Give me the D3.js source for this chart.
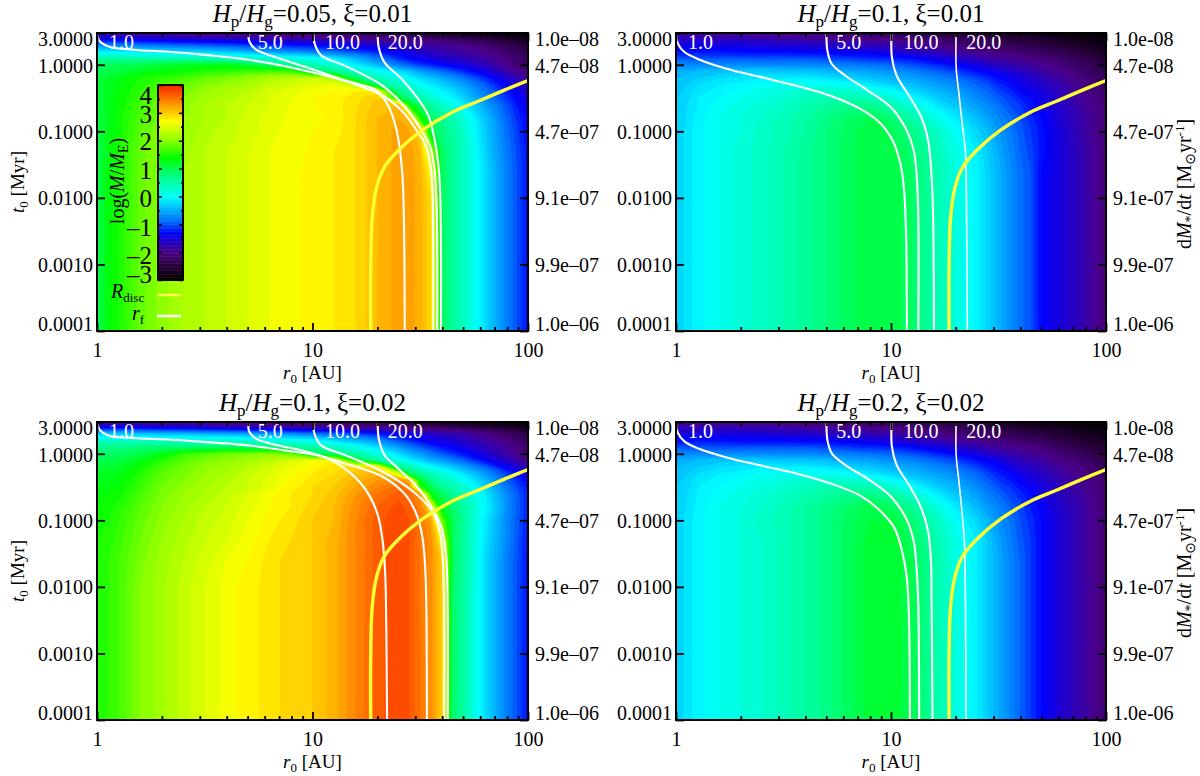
<!DOCTYPE html>
<html><head><meta charset="utf-8">
<script src="https://cdn.jsdelivr.net/npm/d3@7"></script>
<style>
html,body{margin:0;padding:0;background:#fff}
svg{display:block}
text{font-family:"Liberation Serif","Times New Roman",serif;fill:#000}
</style></head><body>
<svg id="c" width="1200" height="776"></svg>
<script>
// ---------- grid coordinates (log10 AU, log10 Myr) ----------
const logR0Grid=[0,.05,.1,.2,.3,.4,.5,.6,.7,.8,.9,1,1.1,1.2,1.3,1.4,1.45,1.5,1.55,1.6,1.65,1.7,1.8,1.9,2];
const logT0Grid=[.477,.4,.3,.2,.1,0,-.1,-.2,-.3,-.4,-.5,-.6,-.8,-1,-1.3,-1.6,-2,-3,-4];

// ---------- log(M/ME), one row per logT0Grid entry ----------
const massA=[
[-1.9,-1.9,-1.9,-1.95,-2,-2.05,-2.05,-2.1,-2.1,-2.15,-2.2,-2.25,-2.3,-2.35,-2.4,-2.5,-2.5,-2.55,-2.6,-2.65,-2.7,-2.75,-2.85,-2.95,-3],
[-1.5,-1.5,-1.5,-1.55,-1.6,-1.65,-1.7,-1.7,-1.75,-1.8,-1.85,-1.9,-1.95,-2,-2.05,-2.1,-2.15,-2.2,-2.25,-2.3,-2.35,-2.4,-2.5,-2.65,-2.8],
[-.75,-.75,-.8,-.85,-.9,-.95,-1,-1.05,-1.1,-1.15,-1.25,-1.3,-1.4,-1.5,-1.6,-1.7,-1.75,-1.8,-1.85,-1.9,-1.95,-2,-2.15,-2.35,-2.55],
[-.1,-.1,-.1,-.15,-.2,-.25,-.3,-.4,-.5,-.6,-.7,-.8,-.9,-1.05,-1.2,-1.4,-1.5,-1.6,-1.7,-1.75,-1.85,-1.9,-2,-2.2,-2.4],
[.55,.55,.55,.55,.5,.5,.45,.4,.35,.25,.15,.05,-.15,-.45,-.8,-1.15,-1.3,-1.4,-1.5,-1.6,-1.65,-1.7,-1.85,-2.05,-2.3],
[.9,.95,1,1.05,1.15,1.2,1.25,1.3,1.1,.9,.7,.5,.25,-.1,-.45,-.8,-.95,-1.1,-1.2,-1.3,-1.4,-1.5,-1.7,-2,-2.3],
[1,1.05,1.1,1.25,1.35,1.45,1.55,1.6,1.7,1.75,1.7,1,.75,.4,.1,-.2,-.35,-.55,-.7,-.85,-1,-1.15,-1.45,-1.8,-2.1],
[1.05,1.2,1.3,1.5,1.6,1.7,1.85,1.95,2.05,2.2,2.3,2.4,2.2,.9,.45,.15,0,-.2,-.35,-.5,-.65,-.8,-1.15,-1.55,-1.9],
[1.1,1.25,1.35,1.55,1.7,1.85,2,2.1,2.2,2.35,2.45,2.55,2.6,2.3,.85,.4,.25,.05,-.1,-.25,-.4,-.55,-.95,-1.35,-1.75],
[1.1,1.25,1.4,1.6,1.8,1.95,2.1,2.2,2.3,2.45,2.55,2.65,2.7,2.8,2.85,.75,.5,.3,.1,-.05,-.2,-.4,-.8,-1.2,-1.6],
[1.1,1.25,1.4,1.65,1.85,2,2.15,2.25,2.35,2.5,2.6,2.7,2.75,2.85,3,1.2,.75,.5,.3,.1,-.05,-.25,-.7,-1.1,-1.55],
[1.1,1.25,1.4,1.7,1.9,2.05,2.2,2.3,2.4,2.5,2.62,2.7,2.75,2.88,3.05,3.1,1.4,.9,.6,.35,.15,-.05,-.55,-1,-1.45],
[1.05,1.25,1.45,1.75,1.95,2.1,2.2,2.3,2.45,2.55,2.62,2.68,2.72,2.9,3.1,3.2,3.1,1.5,.95,.7,.5,.25,-.35,-.9,-1.35],
[1.05,1.25,1.45,1.8,2,2.1,2.25,2.35,2.45,2.55,2.65,2.7,2.75,2.9,3.1,3.25,3.2,3,1.1,.8,.6,.35,-.3,-.85,-1.3],
[1,1.3,1.5,1.85,2.05,2.15,2.3,2.4,2.5,2.6,2.65,2.72,2.8,2.9,3.1,3.25,3.25,3.1,2.2,.95,.65,.4,-.25,-.8,-1.25],
[1,1.35,1.5,1.85,2.05,2.2,2.3,2.4,2.5,2.6,2.66,2.75,2.8,2.9,3.1,3.25,3.25,3.15,2.7,.95,.65,.4,-.2,-.75,-1.25],
[1,1.35,1.5,1.85,2.05,2.2,2.3,2.4,2.5,2.6,2.67,2.75,2.8,2.9,3.1,3.25,3.25,3.15,2.9,.95,.65,.4,-.2,-.75,-1.25],
[.95,1.35,1.5,1.85,2.05,2.2,2.3,2.4,2.5,2.6,2.67,2.75,2.8,2.9,3.1,3.25,3.25,3.15,2.9,.95,.65,.4,-.2,-.75,-1.25],
[.95,1.35,1.5,1.85,2.05,2.2,2.3,2.4,2.5,2.6,2.67,2.75,2.8,2.9,3.1,3.25,3.25,3.15,2.9,.95,.65,.4,-.2,-.75,-1.25]];
const massB=[
[-2,-2,-2,-2,-2.05,-2.05,-2.1,-2.15,-2.2,-2.25,-2.3,-2.35,-2.4,-2.5,-2.55,-2.6,-2.65,-2.7,-2.7,-2.75,-2.8,-2.8,-2.9,-2.95,-3],
[-1.7,-1.7,-1.7,-1.75,-1.75,-1.8,-1.85,-1.9,-1.95,-2,-2.05,-2.1,-2.2,-2.25,-2.35,-2.4,-2.45,-2.5,-2.55,-2.55,-2.6,-2.65,-2.75,-2.85,-2.9],
[-1.45,-1.45,-1.45,-1.5,-1.5,-1.55,-1.6,-1.6,-1.65,-1.7,-1.75,-1.8,-1.9,-2,-2.1,-2.2,-2.25,-2.3,-2.35,-2.4,-2.45,-2.5,-2.6,-2.7,-2.85],
[-1.25,-1.25,-1.25,-1.25,-1.3,-1.3,-1.3,-1.35,-1.35,-1.4,-1.45,-1.55,-1.65,-1.75,-1.9,-2,-2.05,-2.1,-2.15,-2.2,-2.25,-2.3,-2.4,-2.55,-2.7],
[-1,-1,-1,-1,-1,-1,-1,-1,-1.05,-1.1,-1.15,-1.2,-1.3,-1.45,-1.6,-1.75,-1.85,-1.9,-1.95,-2,-2.05,-2.1,-2.25,-2.4,-2.6],
[-.7,-.7,-.7,-.7,-.7,-.7,-.7,-.7,-.75,-.8,-.85,-.9,-1,-1.15,-1.3,-1.5,-1.6,-1.7,-1.75,-1.85,-1.9,-1.95,-2.1,-2.3,-2.5],
[-.5,-.45,-.4,-.35,-.3,-.3,-.35,-.35,-.4,-.5,-.55,-.65,-.75,-.9,-1.05,-1.25,-1.35,-1.45,-1.55,-1.65,-1.75,-1.85,-2,-2.2,-2.4],
[-.4,-.35,-.3,-.2,-.15,-.1,-.1,-.1,-.15,-.25,-.35,-.45,-.55,-.7,-.85,-1.05,-1.15,-1.3,-1.4,-1.5,-1.6,-1.7,-1.9,-2.1,-2.3],
[-.35,-.3,-.2,-.1,-.05,.05,.1,.1,.1,.05,-.1,-.25,-.4,-.55,-.7,-.9,-1,-1.15,-1.25,-1.4,-1.5,-1.6,-1.8,-2.05,-2.25],
[-.35,-.25,-.15,-.05,.05,.15,.2,.3,.3,.3,.2,.05,-.2,-.4,-.55,-.8,-.9,-1.05,-1.15,-1.3,-1.4,-1.5,-1.75,-2,-2.2],
[-.3,-.25,-.1,0,.1,.2,.3,.4,.5,.5,.45,.25,0,-.25,-.45,-.7,-.8,-.95,-1.05,-1.2,-1.3,-1.45,-1.7,-1.95,-2.15],
[-.3,-.2,-.1,.05,.15,.25,.35,.5,.6,.7,.7,.5,.2,-.1,-.35,-.6,-.7,-.85,-1,-1.1,-1.25,-1.4,-1.65,-1.9,-2.15],
[-.3,-.2,-.05,.1,.2,.3,.45,.6,.75,.9,1,.85,.55,.2,-.1,-.4,-.55,-.7,-.85,-1,-1.15,-1.3,-1.6,-1.85,-2.1],
[-.3,-.15,-.05,.1,.2,.35,.45,.6,.8,.95,1.1,1,.75,.4,.05,-.25,-.4,-.6,-.75,-.95,-1.1,-1.25,-1.55,-1.85,-2.1],
[-.3,-.15,-.05,.1,.25,.35,.5,.65,.8,.95,1.1,1.05,.85,.5,.15,-.1,-.3,-.5,-.7,-.9,-1.05,-1.25,-1.55,-1.8,-2.1],
[-.3,-.15,-.05,.1,.25,.35,.5,.65,.8,.95,1.1,1.1,.9,.55,.2,-.05,-.25,-.45,-.65,-.85,-1,-1.3,-1.55,-1.8,-2.1],
[-.3,-.15,-.05,.1,.25,.35,.5,.65,.8,.95,1.1,1.1,.9,.55,.2,-.05,-.25,-.45,-.65,-.85,-1,-1.3,-1.55,-1.8,-2.1],
[-.3,-.15,-.05,.1,.25,.35,.5,.65,.8,.95,1.1,1.1,.9,.55,.2,-.05,-.25,-.45,-.65,-.85,-1,-1.3,-1.55,-1.8,-2.1],
[-.3,-.15,-.05,.1,.25,.35,.5,.65,.8,.95,1.1,1.1,.9,.55,.2,-.05,-.25,-.45,-.65,-.85,-1,-1.3,-1.55,-1.8,-2.1]];
const massC=[
[-2,-2,-2,-2,-2.05,-2.05,-2.1,-2.15,-2.15,-2.2,-2.25,-2.3,-2.35,-2.4,-2.45,-2.55,-2.55,-2.6,-2.65,-2.7,-2.75,-2.8,-2.85,-2.95,-3],
[-1.4,-1.4,-1.4,-1.45,-1.5,-1.55,-1.6,-1.65,-1.7,-1.75,-1.8,-1.85,-1.9,-1.95,-2,-2.1,-2.15,-2.2,-2.25,-2.3,-2.35,-2.4,-2.5,-2.65,-2.8],
[-.3,-.3,-.3,-.35,-.4,-.4,-.45,-.5,-.55,-.6,-.7,-.8,-.9,-1.05,-1.2,-1.4,-1.45,-1.55,-1.6,-1.7,-1.75,-1.8,-2,-2.2,-2.45],
[.35,.35,.35,.35,.35,.3,.3,.3,.25,.2,.1,0,-.2,-.4,-.65,-1,-1.15,-1.3,-1.4,-1.5,-1.55,-1.65,-1.85,-2.05,-2.3],
[.7,.75,.75,.8,.85,.85,.9,.95,.9,.85,.7,.6,.4,.1,-.2,-.6,-.8,-.95,-1.1,-1.25,-1.35,-1.45,-1.7,-1.9,-2.2],
[.85,.9,.95,1.05,1.3,1.6,1.75,1.9,1.95,2.05,1.8,1,.85,.55,.2,-.2,-.4,-.6,-.8,-.95,-1.1,-1.25,-1.55,-1.85,-2.15],
[1,1.05,1.1,1.3,1.55,1.8,1.95,2.05,2.15,2.3,2.5,2.65,2.75,1.3,.6,.15,-.05,-.25,-.45,-.6,-.75,-.9,-1.3,-1.65,-2],
[1.1,1.15,1.2,1.45,1.7,1.9,2.05,2.15,2.3,2.45,2.6,2.75,2.85,2.95,2.9,.75,.5,.25,.05,-.15,-.3,-.5,-.9,-1.35,-1.75],
[1.2,1.25,1.3,1.55,1.8,1.95,2.1,2.2,2.35,2.5,2.65,2.8,2.9,3.05,3.15,2.5,1,.7,.45,.25,.05,-.15,-.6,-1.05,-1.5],
[1.25,1.3,1.35,1.6,1.85,2,2.15,2.25,2.4,2.55,2.7,2.85,2.95,3.15,3.3,3.4,3.2,1.2,.75,.5,.3,.1,-.4,-.9,-1.35],
[1.3,1.35,1.4,1.65,1.9,2.05,2.2,2.3,2.4,2.55,2.75,2.9,3,3.2,3.4,3.55,3.4,1.6,1,.7,.5,.3,-.25,-.8,-1.25],
[1.35,1.4,1.45,1.7,1.95,2.1,2.2,2.35,2.5,2.65,2.8,2.9,3.05,3.3,3.5,3.65,3.55,3.25,1.35,.95,.7,.45,-.1,-.7,-1.2],
[1.4,1.45,1.55,1.8,2,2.15,2.3,2.4,2.55,2.7,2.8,2.95,3.1,3.35,3.6,3.75,3.65,3.45,2.8,1.2,.9,.6,0,-.65,-1.2],
[1.45,1.5,1.6,1.85,2.05,2.2,2.35,2.45,2.6,2.75,2.85,3,3.1,3.4,3.65,3.8,3.7,3.5,3.25,1.9,1,.65,-.1,-.7,-1.2],
[1.5,1.55,1.65,1.9,2.1,2.25,2.4,2.5,2.65,2.8,2.9,3,3.15,3.4,3.65,3.8,3.7,3.5,3.35,2.7,.95,.65,-.15,-.7,-1.25],
[1.5,1.6,1.7,1.95,2.15,2.3,2.45,2.6,2.7,2.85,2.95,3,3.15,3.4,3.65,3.8,3.7,3.5,3.35,3,.95,.65,-.2,-.75,-1.25],
[1.5,1.6,1.7,2,2.15,2.35,2.5,2.65,2.75,2.85,2.95,3,3.15,3.4,3.65,3.8,3.7,3.5,3.35,3,.9,.6,-.2,-.75,-1.25],
[1.5,1.6,1.7,2,2.15,2.35,2.5,2.65,2.75,2.85,2.95,3,3.15,3.4,3.65,3.8,3.7,3.5,3.35,3,.9,.6,-.2,-.75,-1.25],
[1.5,1.6,1.7,2,2.15,2.35,2.5,2.65,2.75,2.85,2.95,3,3.15,3.4,3.65,3.8,3.7,3.5,3.35,3,.9,.6,-.2,-.75,-1.25]];
const massD=[
[-2.05,-2.05,-2.05,-2.05,-2.1,-2.1,-2.15,-2.2,-2.2,-2.25,-2.3,-2.35,-2.4,-2.5,-2.55,-2.6,-2.65,-2.7,-2.75,-2.75,-2.8,-2.85,-2.9,-2.95,-3],
[-1.75,-1.75,-1.75,-1.75,-1.8,-1.8,-1.85,-1.9,-1.95,-2,-2.05,-2.1,-2.2,-2.25,-2.35,-2.4,-2.45,-2.5,-2.55,-2.6,-2.65,-2.7,-2.75,-2.85,-2.95],
[-1.5,-1.5,-1.5,-1.5,-1.5,-1.55,-1.6,-1.6,-1.65,-1.7,-1.75,-1.8,-1.9,-2,-2.1,-2.2,-2.25,-2.3,-2.35,-2.4,-2.45,-2.5,-2.6,-2.75,-2.85],
[-1.25,-1.25,-1.25,-1.25,-1.3,-1.3,-1.3,-1.35,-1.35,-1.4,-1.45,-1.55,-1.65,-1.75,-1.9,-2,-2.05,-2.1,-2.15,-2.2,-2.25,-2.3,-2.45,-2.6,-2.7],
[-1,-1,-1,-1,-1,-1,-1,-1,-1.05,-1.1,-1.15,-1.2,-1.3,-1.45,-1.6,-1.75,-1.85,-1.9,-1.95,-2,-2.05,-2.1,-2.3,-2.45,-2.6],
[-.7,-.7,-.7,-.7,-.7,-.7,-.7,-.7,-.75,-.8,-.85,-.9,-1,-1.15,-1.3,-1.5,-1.6,-1.7,-1.8,-1.85,-1.9,-2,-2.15,-2.3,-2.5],
[-.5,-.45,-.4,-.35,-.3,-.3,-.35,-.35,-.4,-.5,-.55,-.65,-.75,-.9,-1.05,-1.25,-1.35,-1.45,-1.6,-1.7,-1.8,-1.85,-2.05,-2.2,-2.4],
[-.4,-.35,-.3,-.2,-.15,-.1,-.1,-.1,-.15,-.25,-.35,-.45,-.55,-.7,-.85,-1.05,-1.2,-1.3,-1.45,-1.55,-1.65,-1.75,-1.95,-2.1,-2.3],
[-.35,-.3,-.2,-.1,-.05,.05,.1,.1,.1,.05,-.1,-.25,-.4,-.55,-.7,-.9,-1.05,-1.2,-1.3,-1.45,-1.55,-1.65,-1.85,-2.05,-2.25],
[-.35,-.25,-.15,-.05,.05,.15,.2,.3,.3,.3,.2,.05,-.2,-.4,-.55,-.8,-.95,-1.1,-1.2,-1.35,-1.45,-1.55,-1.8,-2,-2.2],
[-.3,-.25,-.1,0,.1,.2,.3,.4,.5,.55,.5,.3,.05,-.25,-.45,-.7,-.85,-1,-1.1,-1.25,-1.35,-1.5,-1.75,-1.95,-2.15],
[-.3,-.2,-.1,.05,.15,.25,.35,.5,.6,.7,.75,.6,.3,-.05,-.35,-.6,-.75,-.9,-1.05,-1.15,-1.3,-1.45,-1.7,-1.9,-2.15],
[-.3,-.2,-.05,.1,.2,.3,.45,.6,.75,.9,1.05,.95,.65,.25,-.1,-.4,-.6,-.75,-.9,-1.05,-1.2,-1.35,-1.65,-1.85,-2.15],
[-.3,-.15,-.05,.1,.2,.35,.45,.6,.75,.95,1.1,1.1,.85,.45,.05,-.25,-.45,-.65,-.8,-1,-1.15,-1.3,-1.6,-1.85,-2.15],
[-.3,-.15,-.05,.1,.2,.3,.45,.6,.75,.95,1.15,1.2,.95,.55,.15,-.1,-.3,-.55,-.75,-.95,-1.1,-1.3,-1.6,-1.85,-2.15],
[-.3,-.15,-.05,.1,.2,.3,.45,.6,.75,.95,1.15,1.2,1,.6,.2,-.1,-.3,-.5,-.7,-.9,-1.1,-1.3,-1.6,-1.85,-2.15],
[-.3,-.15,-.05,.1,.2,.3,.45,.6,.75,.95,1.15,1.2,1,.6,.2,-.1,-.3,-.5,-.7,-.9,-1.1,-1.3,-1.6,-1.85,-2.15],
[-.3,-.15,-.05,.1,.2,.3,.45,.6,.75,.95,1.15,1.2,1,.6,.2,-.1,-.3,-.5,-.7,-.9,-1.1,-1.3,-1.6,-1.85,-2.15],
[-.3,-.15,-.05,.1,.2,.3,.45,.6,.75,.95,1.15,1.2,1,.6,.2,-.1,-.3,-.5,-.7,-.9,-1.1,-1.3,-1.6,-1.85,-2.15]];

// ---------- disc radius track, [log r0, log t0] ----------
const rDiscTrack=[[1.27,-4],[1.27,-3.05],[1.277,-2.3],[1.298,-1.84],[1.333,-1.54],[1.404,-1.27],[1.511,-.98],[1.644,-.72],[1.769,-.548],[1.893,-.377],[2,-.236]];

// ---------- final-position tracks for rf = 1, 5, 10, 20 AU ----------
const rfLabels=["1.0","5.0","10.0","20.0"];
const rfStart=[1,5,10,20];
const rfA=[
[[0,.477],[.012,.357],[.053,.276],[.169,.226],[.347,.191],[.524,.141],[.702,.075],[.88,-.025],[1.058,-.161],[1.236,-.312],[1.298,-.387],[1.351,-.613],[1.387,-.94],[1.404,-1.241],[1.417,-1.643],[1.424,-2.296],[1.428,-4]],
[[.702,.477],[.708,.342],[.738,.226],[.827,.116],[.969,-.035],[1.147,-.236],[1.324,-.462],[1.413,-.688],[1.484,-.99],[1.529,-1.241],[1.552,-1.643],[1.559,-2.296],[1.561,-4]],
[[1.004,.477],[1.01,.317],[1.04,.141],[1.147,-.01],[1.324,-.312],[1.431,-.638],[1.502,-.965],[1.547,-1.241],[1.568,-1.643],[1.577,-2.296],[1.579,-4]],
[[1.303,.477],[1.307,.266],[1.333,.04],[1.413,-.211],[1.484,-.487],[1.538,-.764],[1.573,-1.241],[1.588,-1.643],[1.595,-2.296],[1.596,-4]]];
const rfB=[
[[0,.477],[.009,.317],[.039,.191],[.11,.075],[.235,-.06],[.395,-.186],[.572,-.327],[.715,-.462],[.857,-.663],[.946,-.864],[1.008,-1.141],[1.044,-1.492],[1.061,-1.894],[1.07,-2.548],[1.074,-4]],
[[.7,.477],[.704,.216],[.724,.015],[.786,-.161],[.892,-.387],[.999,-.638],[1.07,-.965],[1.106,-1.291],[1.12,-1.693],[1.127,-2.296],[1.127,-4]],
[[1.003,.477],[1.004,.116],[1.026,-.161],[1.088,-.487],[1.141,-.789],[1.173,-1.141],[1.186,-1.543],[1.195,-2.146],[1.2,-4]],
[[1.303,.477],[1.303,-.035],[1.316,-.437],[1.333,-.94],[1.346,-1.291],[1.351,-2.045],[1.355,-4]]];
const rfC=[
[[0,.477],[.012,.362],[.053,.276],[.169,.236],[.347,.211],[.524,.171],[.702,.126],[.88,.045],[1.058,-.055],[1.147,-.216],[1.236,-.492],[1.298,-.869],[1.324,-1.271],[1.337,-1.774],[1.342,-2.528],[1.346,-4]],
[[.702,.477],[.706,.337],[.738,.226],[.827,.136],[.969,.035],[1.147,-.141],[1.324,-.342],[1.431,-.618],[1.484,-.92],[1.511,-1.271],[1.524,-1.774],[1.529,-2.528],[1.531,-4]],
[[1.004,.477],[1.008,.312],[1.04,.126],[1.147,-.015],[1.324,-.266],[1.467,-.568],[1.556,-.869],[1.591,-1.171],[1.605,-1.623],[1.611,-2.276],[1.611,-4]],
[[1.303,.477],[1.307,.236],[1.333,-.015],[1.396,-.216],[1.484,-.492],[1.556,-.819],[1.6,-1.121],[1.62,-1.523],[1.627,-2.126],[1.628,-4]]];
const rfD=[
[[0,.477],[.009,.312],[.039,.186],[.11,.07],[.235,-.055],[.395,-.176],[.572,-.307],[.715,-.442],[.857,-.628],[.946,-.844],[1.017,-1.121],[1.052,-1.472],[1.074,-1.874],[1.084,-2.528],[1.088,-4]],
[[.7,.477],[.704,.211],[.724,.01],[.786,-.166],[.892,-.377],[.999,-.643],[1.07,-.97],[1.106,-1.322],[1.12,-1.774],[1.127,-2.276],[1.131,-4]],
[[1.003,.477],[1.004,.111],[1.026,-.166],[1.088,-.492],[1.141,-.819],[1.173,-1.171],[1.186,-1.623],[1.189,-2.276],[1.193,-4]],
[[1.303,.477],[1.303,-.015],[1.316,-.417],[1.333,-.97],[1.342,-1.372],[1.346,-2.126],[1.349,-4]]];

// ---------- axes ----------
const xMajor=[1,10,100];
const xMinor=[2,3,4,5,6,7,8,9,20,30,40,50,60,70,80,90];
const tTicks=[3,1,.1,.01,.001,.0001];
const tLabels=["3.0000","1.0000","0.1000","0.0100","0.0010","0.0001"];
const rateLabelsDash=["1.0e–08","4.7e–08","4.7e–07","9.1e–07","9.9e–07","1.0e–06"];
const rateLabelsHyphen=["1.0e-08","4.7e-08","4.7e-07","9.1e-07","9.9e-07","1.0e-06"];
const labelShift=[6,1.5,1,.5,.5,-7];

// ---------- colour table ----------
const cmapValues=[-3,-2.6,-2,-1.3,-.9,0,.7,1.4,2.05,2.7,4];
const cmapColors=["#000000","#200030","#4b0088","#0000ff","#0068ff","#00ffff","#00ff90","#00ff00","#90ff00","#ffff00","#ff2000"];
const cbTicks=[-3,-2,-1,0,1,2,3,4];
const cbLabels=["–3","–2","–1","0","1","2","3","4"];
const cbLabelShift=[-6,3,3,2,2,1,2,10];
const cbMinor=[-2.5,-1.5,-.5,.5,1.5,2.5,3.5];

const color=d3.scaleLinear().domain(cmapValues).range(cmapColors).clamp(true);
const bandStep=.1;
const bands=d3.range(-3,4.2,bandStep);

const panels=[
 {g:massA,rf:rfA,x0:97,x1:528,y0:33,y1:331,title:["0.05","0.01"],right:rateLabelsDash,thin:2.1,ylab:true},
 {g:massB,rf:rfB,x0:676,x1:1106,y0:33,y1:331,title:["0.1","0.01"],right:rateLabelsHyphen,thin:1.6,rlab:true},
 {g:massC,rf:rfC,x0:97,x1:528,y0:422,y1:720,title:["0.1","0.02"],right:rateLabelsDash,thin:2.1,ylab:true},
 {g:massD,rf:rfD,x0:676,x1:1106,y0:422,y1:720,title:["0.2","0.02"],right:rateLabelsHyphen,thin:1.6,rlab:true}];

const svg=d3.select("#c");
const nC=logR0Grid.length,nR=logT0Grid.length;
const idxC=d3.scaleLinear().domain(d3.range(nC)).range(logR0Grid).clamp(true);
const idxR=d3.scaleLinear().domain(d3.range(nR)).range(logT0Grid).clamp(true);
const contours=d3.contours().size([nC,nR]).smooth(true);

function sub(t,parts){
  parts.forEach(p=>{
    const s=t.append("tspan").text(p.t);
    if(p.i) s.attr("font-style","italic");
    if(p.fs) s.attr("font-size",p.fs);
    if(p.dy) s.attr("dy",p.dy);
    if(p.ff) s.style("font-family",p.ff);
  });
}

panels.forEach((P,pi)=>{
  const x=d3.scaleLog().domain([1,100]).range([P.x0,P.x1]);
  const y=d3.scaleLog().domain([1e-4,3]).range([P.y1,P.y0]);
  const id="clip"+pi;
  svg.append("clipPath").attr("id",id).append("rect").attr("x",P.x0).attr("y",P.y0).attr("width",P.x1-P.x0).attr("height",P.y1-P.y0);
  const g=svg.append("g").attr("clip-path",`url(#${id})`);
  g.append("rect").attr("x",P.x0).attr("y",P.y0).attr("width",P.x1-P.x0).attr("height",P.y1-P.y0).attr("fill",color(-3));
  const proj=d3.geoTransform({point(c,r){
    this.stream.point(x(Math.pow(10,idxC(c-.5))),y(Math.pow(10,idxR(r-.5))));
  }});
  const path=d3.geoPath(proj);
  const flat=P.g.flat();
  bands.forEach(t=>{
    const shape=contours.contour(flat,t);
    g.append("path").attr("d",path(shape)).attr("fill",color(t+bandStep/2));
  });
  const line=d3.line().x(d=>x(Math.pow(10,d[0]))).y(d=>y(Math.pow(10,d[1]))).curve(d3.curveCatmullRom.alpha(.5));
  P.rf.forEach((tr,i)=>{
    g.append("path").attr("d",line(tr)).attr("fill","none").attr("stroke","#fff")
     .attr("stroke-width",i==3?P.thin:2.1);
  });
  g.append("path").attr("d",line(rDiscTrack)).attr("fill","none").attr("stroke","#ffff33").attr("stroke-width",3.4);
  rfLabels.forEach((l,i)=>{
    svg.append("text").attr("x",x(rfStart[i])+(i==0?12:(i==1?10:(i==2?12.5:10.5)))).attr("y",P.y0+15.5)
      .attr("font-size",20).style("fill","#fff").text(l);
  });
  const style=(a)=>{a.select(".domain").remove();a.selectAll("line").attr("stroke","#000").attr("stroke-width",1.8);};
  const fmtX=d=>d3.format("d")(d);
  const ax=svg.append("g").attr("transform",`translate(0,${P.y1})`)
    .call(d3.axisBottom(x).tickValues(xMajor).tickSize(-8).tickPadding(0).tickFormat(fmtX));
  style(ax);
  ax.selectAll("text").attr("font-size",20).attr("dy",0).attr("y",26).style("font-family","Liberation Serif").attr("fill","#000");
  const axM=svg.append("g").attr("transform",`translate(0,${P.y1})`)
    .call(d3.axisBottom(x).tickValues(xMinor).tickSize(-4).tickFormat(""));
  style(axM);
  const axT=svg.append("g").attr("transform",`translate(0,${P.y0})`)
    .call(d3.axisTop(x).tickValues(xMajor).tickSize(-8).tickFormat(""));
  style(axT);
  const axTM=svg.append("g").attr("transform",`translate(0,${P.y0})`)
    .call(d3.axisTop(x).tickValues(xMinor).tickSize(-4).tickFormat(""));
  style(axTM);
  const ay=svg.append("g").attr("transform",`translate(${P.x0},0)`)
    .call(d3.axisLeft(y).tickValues(tTicks).tickSize(-8).tickPadding(0).tickFormat((d,i)=>tLabels[i]));
  style(ay);
  ay.selectAll("text").attr("font-size",20).attr("x",-4).attr("dy",(d,i)=>(labelShift[i]+6.5)).style("font-family","Liberation Serif").attr("fill","#000");
  const ar=svg.append("g").attr("transform",`translate(${P.x1},0)`)
    .call(d3.axisRight(y).tickValues(tTicks).tickSize(-8).tickPadding(0).tickFormat((d,i)=>P.right[i]));
  style(ar);
  ar.selectAll("text").attr("font-size",20).attr("x",7).attr("dy",(d,i)=>(labelShift[i]+6.5)).style("font-family","Liberation Serif").attr("fill","#000");
  svg.append("rect").attr("x",P.x0).attr("y",P.y0).attr("width",P.x1-P.x0).attr("height",P.y1-P.y0)
    .attr("fill","none").attr("stroke","#000").attr("stroke-width",2);
  const cx=(P.x0+P.x1)/2;
  const tt=svg.append("text").attr("x",cx).attr("y",P.y0-11).attr("text-anchor","middle").attr("font-size",25);
  sub(tt,[{t:"H",i:1},{t:"p",fs:17,dy:5},{t:"/",dy:-5},{t:"H",i:1},{t:"g",fs:17,dy:5},{t:"="+P.title[0]+", ξ="+P.title[1],dy:-5}]);
  const xl=svg.append("text").attr("x",cx).attr("y",P.y1+48).attr("text-anchor","middle").attr("font-size",19);
  sub(xl,[{t:"r",i:1},{t:"0",fs:13,dy:4},{t:" [AU]",dy:-4}]);
  if(P.ylab){
    const yl=svg.append("text").attr("transform",`translate(24,${(P.y0+P.y1)/2})rotate(-90)`).attr("text-anchor","middle").attr("font-size",19);
    sub(yl,[{t:"t",i:1},{t:"0",fs:13,dy:4},{t:" [Myr]",dy:-4}]);
  }
  if(P.rlab){
    const rl=svg.append("text").attr("transform",`translate(1191,${(P.y0+P.y1)/2+2})rotate(-90)`).attr("text-anchor","middle").attr("font-size",20);
    sub(rl,[{t:"d"},{t:"M",i:1},{t:"*",fs:14,dy:4},{t:"/d",dy:-4},{t:"t",i:1},{t:" [M"},{t:"⊙",fs:14,dy:4,ff:"DejaVu Sans"},{t:"yr",dy:-4},{t:"-1",fs:13,dy:-7},{t:"]",dy:7}]);
  }
});

// ---------- colour bar + legend (first panel) ----------
const cbY=d3.scaleLinear().domain([-3,4]).range([280,85]);
const cb=svg.append("g");
d3.range(-3,4,.05).forEach(v=>{
  cb.append("rect").attr("x",158).attr("width",25).attr("y",cbY(v+.05)).attr("height",cbY(v)-cbY(v+.05)+.4).attr("fill",color(v+.025));
});
const cbA=cb.append("g").attr("transform","translate(158,0)").call(d3.axisLeft(cbY).tickValues(cbTicks).tickSize(-4).tickPadding(0).tickFormat((d,i)=>cbLabels[i]));
cbA.select(".domain").remove();cbA.selectAll("line").attr("stroke","#000").attr("stroke-width",1.5);
cbA.selectAll("text").attr("font-size",25).attr("x",-6).attr("dy",(d,i)=>cbLabelShift[i]+8).style("font-family","Liberation Serif").attr("fill","#000");
[[158,-2,d3.axisLeft,cbMinor],[183,-2,d3.axisRight,cbMinor],[183,-4,d3.axisRight,cbTicks]].forEach(([px,len,ax,vals])=>{
  const a=cb.append("g").attr("transform",`translate(${px},0)`).call(ax(cbY).tickValues(vals).tickSize(len).tickFormat(""));
  a.select(".domain").remove();a.selectAll("line").attr("stroke","#000").attr("stroke-width",1.5);
});
cb.append("rect").attr("x",158).attr("y",85).attr("width",25).attr("height",195).attr("fill","none").attr("stroke","#000").attr("stroke-width",2).attr("stroke-linejoin","round");
const cl=svg.append("text").attr("transform","translate(124,181)rotate(-90)").attr("text-anchor","middle").attr("font-size",20);
sub(cl,[{t:"log("},{t:"M",i:1},{t:"/"},{t:"M",i:1},{t:"E",fs:14,dy:4},{t:")",dy:-4}]);
const lg1=svg.append("text").attr("x",111).attr("y",298).attr("font-size",20);
sub(lg1,[{t:"R",i:1},{t:"disc",fs:13,dy:4}]);
const lg2=svg.append("text").attr("x",132).attr("y",320).attr("font-size",20);
sub(lg2,[{t:"r",i:1},{t:"f",fs:13,dy:4}]);
svg.append("line").attr("x1",157).attr("x2",181).attr("y1",295).attr("y2",295).attr("stroke","#ffff55").attr("stroke-width",2.5);
svg.append("line").attr("x1",157).attr("x2",181).attr("y1",316).attr("y2",316).attr("stroke","#fff").attr("stroke-width",2.5);
</script>
</body></html>
